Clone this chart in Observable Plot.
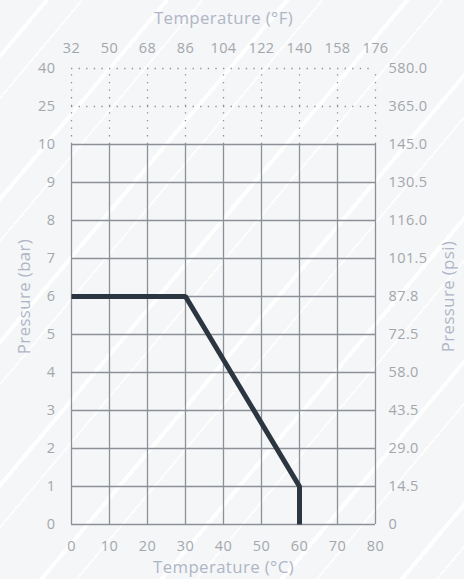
<!DOCTYPE html>
<html>
<head>
<meta charset="utf-8">
<script src="https://cdn.jsdelivr.net/npm/d3@7"></script>
<script src="https://cdn.jsdelivr.net/npm/@observablehq/plot@0.6"></script>
<style>
  html, body { margin: 0; padding: 0; }
  body {
    width: 464px; height: 579px; overflow: hidden;
    background-color: #f5f6f7;
    background-image: repeating-linear-gradient(130deg,
      rgba(255,255,255,0) 0px, rgba(255,255,255,0) 34px,
      rgba(255,255,255,0.95) 34px, rgba(255,255,255,0.95) 38px,
      rgba(255,255,255,0) 38px, rgba(255,255,255,0) 62px,
      rgba(255,255,255,0.8) 62px, rgba(255,255,255,0.8) 64px,
      rgba(255,255,255,0) 64px, rgba(255,255,255,0) 92px);
  }
  #chart svg { display: block; }
</style>
</head>
<body>
<div id="chart"></div>
<script>
// Temperature ticks (°C) and matching °F labels
const tempC = [0, 10, 20, 30, 40, 50, 60, 70, 80];
const tempFLabels = ["32", "50", "68", "86", "104", "122", "140", "158", "176"];

// Pressure ticks (bar) and matching psi labels
const pressureBar = [0, 1, 2, 3, 4, 5, 6, 7, 8, 9, 10, 25, 40];
const pressurePsiLabels = ["0", "14.5", "29.0", "43.5", "58.0", "72.5", "87.8", "101.5", "116.0", "130.5", "145.0", "365.0", "580.0"];
const solidBar = [0, 1, 2, 3, 4, 5, 6, 7, 8, 9, 10];
const dottedBar = [25, 40];

// Pressure/temperature curve
const curveTemp = [0, 30, 60, 60];
const curvePressure = [6, 6, 1, 0];

const curve = curveTemp.map((t, i) => ({t, p: curvePressure[i]}));

const W = 464, H = 579;
const mT = 68, mB = 55, mL = 71, mR = 89;
const gridColor = "#8c9197";
const tickColor = "#a3a7ac";
const labelColor = "#aeb5c6";
const font = "'Open Sans', sans-serif";

const yBottom = H - mB, yTop = mT;
const unit = (yBottom - yTop) / 12;

const labelOpts = {fill: labelColor, fontSize: 16.8, textAnchor: "middle", lineAnchor: "middle"};

const chart = Plot.plot({
  width: W, height: H,
  marginTop: mT, marginBottom: mB, marginLeft: mL, marginRight: mR,
  style: {background: "transparent", fontFamily: font, fontSize: "14.5px", letterSpacing: "0.4px"},
  x: {type: "linear", domain: [0, 80]},
  y: {type: "linear", domain: [0, 10, 25, 40], range: [yBottom, yBottom - 10 * unit, yBottom - 11 * unit, yTop]},
  marks: [
    Plot.ruleY(solidBar, {stroke: gridColor, strokeWidth: 1.3}),
    Plot.ruleY(dottedBar, {stroke: gridColor, strokeWidth: 1.3, strokeDasharray: "1.3,6.3"}),
    Plot.ruleX(tempC, {y1: 0, y2: 10, stroke: gridColor, strokeWidth: 1.3}),
    Plot.ruleX(tempC, {y1: 10, y2: 40, stroke: gridColor, strokeWidth: 1.3, strokeDasharray: "1.3,6.3"}),
    Plot.line(curve, {x: "t", y: "p", stroke: "#2c3640", strokeWidth: 5, strokeLinejoin: "miter", strokeLinecap: "butt"}),
    Plot.axisX({anchor: "bottom", ticks: tempC, tickSize: 0, tickPadding: 16, color: tickColor, label: null}),
    Plot.axisX({anchor: "top", ticks: tempC, tickSize: 0, tickPadding: 16, color: tickColor, label: null,
      tickFormat: d => tempFLabels[tempC.indexOf(d)]}),
    Plot.axisY({anchor: "left", ticks: pressureBar, tickSize: 0, tickPadding: 16, color: tickColor, label: null,
      tickFormat: d => String(d)}),
    Plot.axisY({anchor: "right", ticks: pressureBar, tickSize: 0, tickPadding: 13, color: tickColor, label: null,
      tickFormat: d => pressurePsiLabels[pressureBar.indexOf(d)]}),
    Plot.text(["Temperature (°C)"], {frameAnchor: "bottom", dy: 43, ...labelOpts}),
    Plot.text(["Temperature (°F)"], {frameAnchor: "top", dy: -49.5, ...labelOpts}),
    Plot.text(["Pressure (bar)"], {frameAnchor: "left", dx: -47, rotate: -90, ...labelOpts}),
    Plot.text(["Pressure (psi)"], {frameAnchor: "right", dx: 73.5, rotate: -90, ...labelOpts})
  ]
});
document.getElementById("chart").append(chart);
</script>
</body>
</html>
